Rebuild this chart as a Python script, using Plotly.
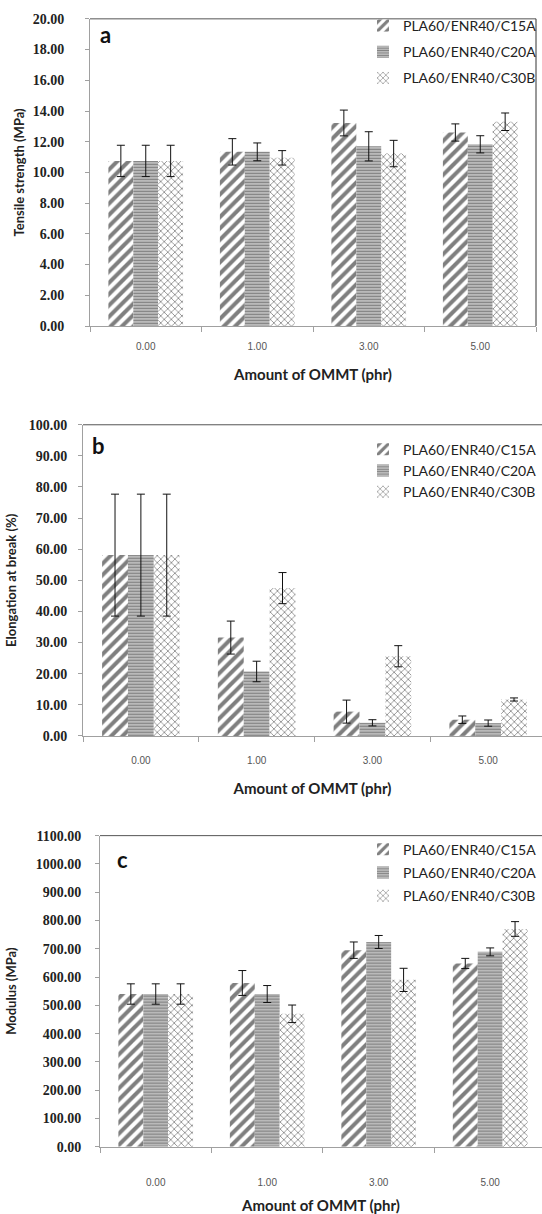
import plotly.graph_objects as go

# ---------------- data ----------------
categories = ["0.00", "1.00", "3.00", "5.00"]
series_names = ["PLA60/ENR40/C15A", "PLA60/ENR40/C20A", "PLA60/ENR40/C30B"]

tensile_c15a = [10.75, 11.34, 13.22, 12.60]
tensile_c15a_err = [1.02, 0.86, 0.84, 0.56]
tensile_c20a = [10.75, 11.34, 11.70, 11.83]
tensile_c20a_err = [1.02, 0.58, 0.95, 0.56]
tensile_c30b = [10.75, 10.95, 11.23, 13.30]
tensile_c30b_err = [1.02, 0.47, 0.86, 0.57]

elong_c15a = [58.1, 31.6, 7.8, 5.2]
elong_c15a_err = [19.6, 5.3, 3.7, 1.2]
elong_c20a = [58.1, 20.7, 4.2, 4.1]
elong_c20a_err = [19.6, 3.3, 1.0, 1.0]
elong_c30b = [58.1, 47.5, 25.6, 11.7]
elong_c30b_err = [19.6, 5.0, 3.4, 0.5]

mod_c15a = [540, 579, 695, 648]
mod_c15a_err = [36, 44, 29, 18]
mod_c20a = [540, 540, 724, 689]
mod_c20a_err = [36, 30, 23, 14]
mod_c30b = [540, 470, 590, 770]
mod_c30b_err = [36, 31, 41, 26]

y_titles = ["Tensile strength (MPa)", "Elongation at break (%)", "Modulus (MPa)"]
x_title = "Amount of OMMT (phr)"
panel_letters = ["a", "b", "c"]

# ---------------- styling ----------------
W, H = 542, 1214
patterns = [
    dict(shape="/", fgcolor="#000000", bgcolor="white", size=8, solidity=0.5),
    dict(shape="-", fgcolor="#000000", bgcolor="white", size=3, solidity=0.7),
    dict(shape="x", fgcolor="#111111", bgcolor="white", size=5, solidity=0.3),
]

panels = [
    dict(vals=[tensile_c15a, tensile_c20a, tensile_c30b],
         errs=[tensile_c15a_err, tensile_c20a_err, tensile_c30b_err],
         px=(90, 536), py=(12, 323), yr=[0, 20], dt=2, xr=[-0.5, 3.5],
         right=True, leg_y=3, gap=5,
         ystand=18, ytitle_stand=5, xstand=11, xtitle_stand=18,
         letter=(0.018, 0.95)),
    dict(vals=[elong_c15a, elong_c20a, elong_c30b],
         errs=[elong_c15a_err, elong_c20a_err, elong_c30b_err],
         px=(83, 542), py=(423, 738), yr=[0, 100], dt=10, xr=[-0.5, 3.465],
         right=False, leg_y=432, gap=0,
         ystand=8, ytitle_stand=9, xstand=15, xtitle_stand=18,
         letter=(0.015, 0.934)),
    dict(vals=[mod_c15a, mod_c20a, mod_c30b],
         errs=[mod_c15a_err, mod_c20a_err, mod_c30b_err],
         px=(100, 542), py=(839, 1154), yr=[0, 1100], dt=100, xr=[-0.5, 3.465],
         right=False, leg_y=837, gap=2,
         ystand=11, ytitle_stand=16, xstand=26, xtitle_stand=13,
         letter=(0.034, 0.924)),
]

fig = go.Figure()
layout = dict(
    width=W, height=H,
    margin=dict(l=0, r=0, t=0, b=0),
    paper_bgcolor="white", plot_bgcolor="white",
    barmode="group", bargap=0.33, bargroupgap=0,
    showlegend=True,
    shapes=[], annotations=[],
)

for i, p in enumerate(panels):
    sfx = "" if i == 0 else str(i + 1)
    xa, ya = "x" + sfx, "y" + sfx
    leg = "legend" + sfx
    for k in range(3):
        fig.add_trace(go.Bar(
            x=categories, y=p["vals"][k], name=series_names[k],
            xaxis=xa, yaxis=ya, legend=leg,
            legendgroup=(f"{i}-{k}" if p["gap"] > 0 else None),
            marker=dict(color="white", line=dict(width=0), pattern=patterns[k]),
            error_y=dict(type="data", array=p["errs"][k], visible=True,
                         color="#111111", thickness=1, width=4),
        ))
    x0, x1 = p["px"]
    y0, y1 = p["py"]
    layout["xaxis" + sfx] = dict(
        domain=[x0 / W, x1 / W], anchor=ya, type="category",
        range=p["xr"], showline=True, linecolor="#a0a0a0", linewidth=1,
        ticks="outside", tickson="boundaries", ticklen=5, tickcolor="#a0a0a0",
        tickfont=dict(family="Arial, Liberation Sans", size=10, color="#555555"),
        ticklabelstandoff=p["xstand"],
        showgrid=False, zeroline=False,
        title=dict(text=x_title, standoff=p["xtitle_stand"],
                   font=dict(family="Lato", size=15, color="#222222", weight="bold")),
    )
    layout["yaxis" + sfx] = dict(
        domain=[1 - y1 / H, 1 - y0 / H], anchor=xa,
        range=p["yr"], dtick=p["dt"], tick0=0, tickformat=".2f",
        showline=True, linecolor="#a0a0a0", linewidth=1,
        ticks="outside", ticklen=4, tickcolor="#a0a0a0",
        tickfont=dict(family="Liberation Serif", size=14, color="#222222", weight="bold"),
        ticklabelstandoff=p["ystand"],
        showgrid=False, zeroline=False,
        title=dict(text=y_titles[i], standoff=p["ytitle_stand"],
                   font=dict(family="Lato", size=13, color="#222222", weight="bold")),
    )
    layout[leg] = dict(
        x=1.0, xanchor="right", y=1 - p["leg_y"] / H, yanchor="top",
        bgcolor="rgba(0,0,0,0)", borderwidth=0,
        font=dict(family="Lato", size=14, color="#222222"),
        tracegroupgap=p["gap"], itemwidth=30,
    )
    layout["shapes"].append(dict(type="line", xref=xa + " domain", yref=ya + " domain",
                                 x0=0, x1=1, y0=1, y1=1,
                                 line=dict(color="#555555", width=1)))
    if p["right"]:
        layout["shapes"].append(dict(type="line", xref=xa + " domain", yref=ya + " domain",
                                     x0=1, x1=1, y0=0, y1=1,
                                     line=dict(color="#333333", width=1)))
    layout["annotations"].append(dict(
        text=panel_letters[i], xref=xa + " domain", yref=ya + " domain",
        x=p["letter"][0], y=p["letter"][1], xanchor="left", yanchor="middle",
        showarrow=False,
        font=dict(family="Lato", size=22, color="#111111", weight="bold"),
    ))

fig.update_layout(**layout)
fig.write_html("out.html", config={"displayModeBar": False},
               post_script="document.body.style.margin='0px';")
